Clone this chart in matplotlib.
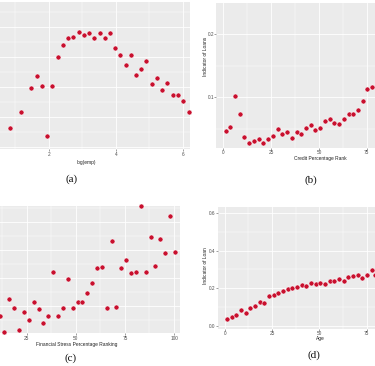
import matplotlib
matplotlib.use("Agg")
import matplotlib.pyplot as plt

# ---------------- data ----------------
# (a) log(emp) vs indicator of loan
a_x = [0.845, 1.164, 1.472, 1.633, 1.791, 1.949, 2.099, 2.26, 2.418, 2.576, 2.725,
       2.887, 3.045, 3.194, 3.352, 3.513, 3.672, 3.821, 3.979, 4.128, 4.29, 4.448,
       4.597, 4.755, 4.904, 5.066, 5.224, 5.382, 5.531, 5.693, 5.851, 6.009, 6.17]
a_y = [0.161, 0.215, 0.295, 0.336, 0.303, 0.137, 0.303, 0.397, 0.44, 0.463, 0.466,
       0.482, 0.473, 0.479, 0.463, 0.479, 0.463, 0.478, 0.43, 0.406, 0.372, 0.406,
       0.339, 0.359, 0.386, 0.309, 0.328, 0.289, 0.313, 0.272, 0.272, 0.253, 0.217]

# (b) credit percentage rank
b_x = [1.26, 3.66, 6.12, 8.58, 10.98, 13.44, 16.06, 18.51, 20.92, 23.38, 25.84,
       28.45, 30.86, 33.32, 35.77, 38.39, 40.79, 43.25, 45.71, 48.12, 50.73, 53.19,
       55.65, 58.05, 60.51, 62.97, 65.59, 67.99, 70.45, 72.91, 75.31, 77.77]
b_y = [0.0465, 0.0524, 0.1016, 0.0735, 0.0375, 0.0275, 0.0302, 0.0343, 0.027, 0.0343,
       0.039, 0.0502, 0.0417, 0.0454, 0.0359, 0.0444, 0.0422, 0.0508, 0.0556, 0.0481,
       0.0513, 0.0624, 0.0651, 0.0587, 0.0581, 0.0651, 0.0735, 0.0735, 0.0794, 0.0937,
       0.1132, 0.1168]

# (c) financial stress percentage ranking
c_x = [11.41, 13.59, 16.14, 18.69, 21.23, 23.63, 26.17, 28.56, 31.11, 33.45, 36.0,
       38.54, 41.09, 43.48, 46.03, 48.42, 50.97, 53.31, 55.86, 58.4, 60.79, 63.34,
       65.73, 68.28, 70.62, 73.17, 75.56, 78.11, 80.65, 83.05, 85.6, 88.14, 90.48,
       93.03, 95.57, 98.12, 100.5]
c_y = [0.0321, 0.003, 0.063, 0.047, 0.0066, 0.0388, 0.0255, 0.0571, 0.0452, 0.0196,
       0.0316, 0.1107, 0.0321, 0.0464, 0.0982, 0.047, 0.0566, 0.0577, 0.0738, 0.0905,
       0.1179, 0.1196, 0.0459, 0.1655, 0.0475, 0.1179, 0.1316, 0.1095, 0.1102, 0.228,
       0.1107, 0.1738, 0.1214, 0.1702, 0.1452, 0.2112, 0.1464]

# (d) age
d_x = [1.21, 3.70, 6.13, 8.61, 11.09, 13.52, 16.01, 18.49, 20.92, 23.4, 25.88, 28.31,
       30.8, 33.28, 35.71, 38.19, 40.68, 43.11, 45.59, 48.07, 50.5, 52.98, 55.47,
       57.9, 60.38, 62.86, 65.29, 67.78, 70.26, 72.69, 75.17, 77.66, 79.4]
d_y = [0.0354, 0.046, 0.0566, 0.0815, 0.0672, 0.0937, 0.1026, 0.127, 0.1201, 0.1608,
       0.1624, 0.1746, 0.1873, 0.1942, 0.1995, 0.2085, 0.2153, 0.2116, 0.2275, 0.2206,
       0.2296, 0.2243, 0.2402, 0.2402, 0.2508, 0.2402, 0.2614, 0.2646, 0.2698, 0.254,
       0.2698, 0.2947, 0.2698]

a_xticks = [2, 4, 6]
b_xticks = [0, 25, 50, 75]
b_yticks = [0.1, 0.2]
c_xticks = [25, 50, 75, 100]
d_xticks = [0, 25, 50, 75]
d_yticks = [0.0, 0.2, 0.4, 0.6]

captions = ["(a)", "(b)", "(c)", "(d)"]

# ---------------- style ----------------
W, H = 375, 366
fig = plt.figure(figsize=(W / 100, H / 100), dpi=100)
fig.patch.set_facecolor("white")

PANEL = "#EBEBEB"
RED = "#C8102E"
TICKC = "#4D4D4D"
LABC = "#222222"
sans = ["Liberation Sans", "DejaVu Sans"]
serif = ["Liberation Serif", "DejaVu Serif"]
LFS = 3.5


def add_ax(x0, y0, x1, y1):
    return fig.add_axes([x0 / W, 1 - y1 / H, (x1 - x0) / W, (y1 - y0) / H])


def style(ax, xlim, ylim, xmaj, xmin, ymaj, ymin, ylabels=True, pad=0.5):
    ax.set_facecolor(PANEL)
    for s in ax.spines.values():
        s.set_visible(False)
    ax.set_xlim(*xlim)
    ax.set_ylim(*ylim)
    ax.set_xticks(xmaj)
    ax.set_xticks(xmin, minor=True)
    ax.set_yticks(ymaj)
    ax.set_yticks(ymin, minor=True)
    ax.grid(True, which="major", color="white", linewidth=0.6)
    ax.grid(True, which="minor", color="white", linewidth=0.3)
    ax.set_axisbelow(True)
    ax.tick_params(which="major", length=1.2, width=0.4, color="#555555",
                   labelsize=3.4, labelcolor=TICKC, pad=pad)
    ax.tick_params(which="minor", length=0)
    if not ylabels:
        ax.tick_params(axis="y", which="major", length=0, labelleft=False)
    for lab in ax.get_xticklabels() + ax.get_yticklabels():
        lab.set_fontfamily(sans)


def pts(ax, x, y):
    ax.plot(x, y, linestyle="none", marker="o", markersize=3.6,
            markerfacecolor=RED, markeredgecolor="white", markeredgewidth=0.35,
            clip_on=False, zorder=3)


def xlab(ax, text, fx, fy):
    ax.set_xlabel(text, fontsize=LFS, family=sans, color=LABC)
    ax.xaxis.set_label_coords(fx, fy)
    ax.xaxis.label.set_va("center")
    ax.xaxis.label.set_ha("center")


def ylab(ax, text, fx, fy):
    ax.set_ylabel(text, fontsize=LFS, family=sans, color=LABC)
    ax.yaxis.set_label_coords(fx, fy)
    ax.yaxis.label.set_va("center")
    ax.yaxis.label.set_ha("center")


# (a)  panel extends past the left edge of the picture
ax_a = add_ax(-18, 2, 190, 149)
style(ax_a, (0.0, 6.209), (0.092, 0.582), a_xticks, [1, 3, 5],
      [0.1, 0.2, 0.3, 0.4, 0.5], [0.15, 0.25, 0.35, 0.45, 0.55],
      ylabels=False, pad=1.3)
ax_a.set_xticklabels([str(v) for v in a_xticks])
pts(ax_a, a_x, a_y)
xlab(ax_a, "log(emp)", 0.5, -0.095)

# (b)  panel extends past the right edge
ax_b = add_ax(216, 3, 421.4, 148)
style(ax_b, (-3.82, 103.6), (0.0195, 0.2497), b_xticks, [12.5, 37.5, 62.5],
      b_yticks, [0.05, 0.15], pad=0.1)
ax_b.set_xticklabels([str(v) for v in b_xticks])
ax_b.set_yticklabels(["0.1", "0.2"])
pts(ax_b, b_x, b_y)
xlab(ax_b, "Credit Percentage Rank", 0.506, -0.072)
ylab(ax_b, "Indicator of Loans", -0.050, 0.63)

# (c)
ax_c = add_ax(-26.6, 206, 180, 333.3)
style(ax_c, (-2.14, 103.05), (0.0012, 0.2286), c_xticks, [12.5, 37.5, 62.5, 87.5],
      [0.05, 0.1, 0.15, 0.2], [0.025, 0.075, 0.125, 0.175, 0.225],
      ylabels=False, pad=0.7)
ax_c.set_xticklabels([str(v) for v in c_xticks])
pts(ax_c, c_x, c_y)
xlab(ax_c, "Financial Stress Percentage Ranking", 0.5, -0.09)

# (d)
ax_d = add_ax(218, 206.7, 420.6, 329)
style(ax_d, (-3.54, 103.5), (-0.0175, 0.635), d_xticks, [12.5, 37.5, 62.5],
      d_yticks, [0.1, 0.3, 0.5], pad=0.5)
ax_d.set_xticklabels([str(v) for v in d_xticks])
ax_d.set_yticklabels(["0.0", "0.2", "0.4", "0.6"])
pts(ax_d, d_x, d_y)
xlab(ax_d, "Age", 0.503, -0.08)
ylab(ax_d, "Indicator of Loan", -0.0607, 0.52)

# captions
cap_pos = [(72, 179), (311, 180), (71, 357.7), (314, 355)]
for txt, (cx, cy) in zip(captions, cap_pos):
    fig.text(cx / W, 1 - cy / H, txt, fontsize=8, family=serif, color="#111111",
             ha="center", va="center")

fig.savefig("out.png", dpi=100)
